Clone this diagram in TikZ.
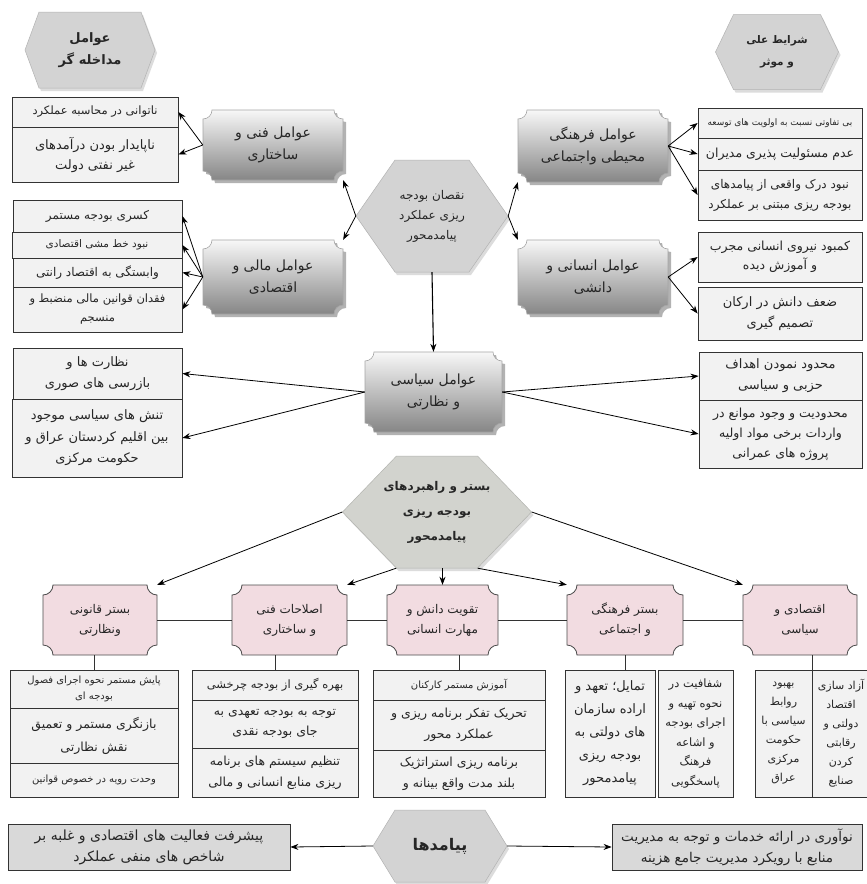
\documentclass[tikz,border=0pt]{standalone}
\usepackage{fontspec}
\setmainfont{DejaVu Sans}
\newfontfamily\arabicfont[Script=Arabic]{DejaVu Sans}
\usetikzlibrary{arrows.meta,calc}
\TeXXeTstate=1
\newcommand\prs[1]{\beginR #1\endR}
\newcommand\fz[2]{\arabicfont\fontsize{#1}{#2}\selectfont}
\definecolor{boxfill}{HTML}{F2F2F2}
\definecolor{pinkfill}{HTML}{F2DCE1}
\definecolor{hexfill}{HTML}{D3D3D3}
\definecolor{hexfillm}{HTML}{D2D3CE}
\definecolor{botfill}{HTML}{D9D9D9}
\newcommand\plqshape[6]{%
 \pgfmathsetmacro\kk{0.552*#6}%
 \path[#1] ({#2+#6},#3) -- ({#4-#6},#3) .. controls ({#4-#6},{#3+\kk}) and ({#4-\kk},{#3+#6}) .. (#4,{#3+#6}) -- (#4,{#5-#6}) .. controls ({#4-\kk},{#5-#6}) and ({#4-#6},{#5-\kk}) .. ({#4-#6},#5) -- ({#2+#6},#5) .. controls ({#2+#6},{#5-\kk}) and ({#2+\kk},{#5-#6}) .. (#2,{#5-#6}) -- (#2,{#3+#6}) .. controls ({#2+\kk},{#3+#6}) and ({#2+#6},{#3+\kk}) .. ({#2+#6},#3) -- cycle;}
\newcommand\hexshape[6]{%
 \path[#1] ({#2-#4/2},#3) -- ({#2-#4/2+#6},{#3-#5/2}) -- ({#2+#4/2-#6},{#3-#5/2}) -- ({#2+#4/2},#3) -- ({#2+#4/2-#6},{#3+#5/2}) -- ({#2-#4/2+#6},{#3+#5/2}) -- cycle;}
\newcommand\hexnode[9]{%
 \hexshape{fill=black!30,opacity=0.45,xshift=2pt,yshift=-3pt}{#2}{#3}{#4}{#5}{#6}%
 \hexshape{fill=#7,draw=#7!85!black,line width=0.5pt}{#2}{#3}{#4}{#5}{#6}%
 \node[hextxt,minimum width=#4pt,minimum height=#5pt,#8] (#1) at (#2,#3) {#9};}
\newcommand\gnode[6]{%
 \plqshape{fill=black,opacity=0.3,xshift=3pt,yshift=-3pt}{#2}{#3}{#4}{#5}{9}%
 \plqshape{top color=gray!6,bottom color=gray!95,draw=gray!70,line width=0.6pt}{#2}{#3}{#4}{#5}{9}%
 \pgfmathsetmacro\bw{#4-#2}\pgfmathsetmacro\bh{#5-#3}%
 \pgfmathsetmacro\bcx{(#2+#4)/2}\pgfmathsetmacro\bcy{(#3+#5)/2}%
 \node[gtxt,minimum width=\bw pt,minimum height=\bh pt] (#1) at (\bcx,\bcy) {#6};}
\newcommand\pnode[6]{%
 \plqshape{fill=pinkfill,draw=black!70,line width=0.8pt}{#2}{#3}{#4}{#5}{10}%
 \pgfmathsetmacro\bw{#4-#2}\pgfmathsetmacro\bh{#5-#3}%
 \pgfmathsetmacro\bcx{(#2+#4)/2}\pgfmathsetmacro\bcy{(#3+#5)/2}%
 \node[ptxt,minimum width=\bw pt,minimum height=\bh pt] (#1) at (\bcx,\bcy) {#6};}
\newcommand\bx[7]{%
 \pgfmathsetmacro\bw{#4-#2}\pgfmathsetmacro\bh{#5-#3}%
 \pgfmathsetmacro\bcx{(#2+#4)/2}\pgfmathsetmacro\bcy{(#3+#5)/2}%
 \node[box,minimum width=\bw pt,minimum height=\bh pt,#6] (#1) at (\bcx,\bcy) {#7};}
\begin{document}
\begin{tikzpicture}[x=1pt,y=-1pt,
 box/.style={draw=black!80,fill=boxfill,line width=0.8pt,inner sep=0pt,align=center,text=black!85,font=\fz{12.5}{20}},
 botbox/.style={fill=botfill,font=\fz{13.5}{21}},
 hextxt/.style={inner sep=0pt,align=center,text=black!85},
 gtxt/.style={inner sep=0pt,align=center,text=black!85,font=\fz{14}{22}},
 ptxt/.style={inner sep=0pt,align=center,text=black!85,font=\fz{12}{20}},
 arr/.style={-{Stealth[length=8pt,width=6pt]},line width=0.8pt,black},
 ln/.style={line width=0.8pt,black!80}]
\useasboundingbox (0,0) rectangle (867,884);
\fill[white] (0,0) rectangle (867,884);

% hexagons
\hexnode{HA}{90}{50}{130}{76}{14}{hexfill}{font=\fz{13}{22}\bfseries}{\prs{عوامل}\\\prs{مداخله گر}}
\hexnode{HB}{777}{52}{123}{75}{18}{hexfill}{font=\fz{10.5}{22}\bfseries}{\prs{شرایط علی}\\\prs{و موثر}}
\hexnode{HC}{432}{216}{152}{112}{39}{hexfill}{font=\fz{12}{20}}{\prs{نقصان بودجه}\\\prs{ریزی عملکرد}\\\prs{پیامدمحور}}
\hexnode{HM}{437}{512}{189}{112}{54}{hexfillm}{font=\fz{12}{25}\bfseries}{\prs{بستر و راهبردهای}\\\prs{بودجه ریزی}\\\prs{پیامدمحور}}
\hexnode{HP}{440}{846}{134}{72}{22}{hexfill}{font=\fz{16}{20}\bfseries}{\prs{پیامدها}}

% gray plaques
\gnode{F1}{203}{110}{343}{180}{\prs{عوامل فنی و}\\\prs{ساختاری}}
\gnode{F2}{203}{240}{343}{314}{\prs{عوامل مالی و}\\\prs{اقتصادی}}
\gnode{F3}{518}{110}{668}{182}{\prs{عوامل فرهنگی}\\\prs{محیطی واجتماعی}}
\gnode{F4}{518}{240}{668}{314}{\prs{عوامل انسانی و}\\\prs{دانشی}}
\gnode{F5}{365}{352}{502}{432}{\prs{عوامل سیاسی}\\\prs{و نظارتی}}

% boxes top left
\bx{L1a}{12}{97}{178}{127}{font=\fz{11.5}{20}}{\prs{ناتوانی در محاسبه عملکرد}}
\bx{L1b}{12}{127}{178}{182}{font=\fz{13}{20}}{\prs{ناپایدار بودن درآمدهای}\\\prs{غیر نفتی دولت}}
\bx{L2a}{13}{200}{182}{232}{font=\fz{12}{18}}{\prs{کسری بودجه مستمر}}
\bx{L2b}{12}{232}{182}{258}{font=\fz{10.5}{18}}{\prs{نبود خط مشی اقتصادی}}
\bx{L2c}{13}{258}{182}{287}{font=\fz{12}{18}}{\prs{وابستگی به اقتصاد رانتی}}
\bx{L2d}{13}{287}{182}{332}{font=\fz{11.5}{19}}{\prs{فقدان قوانین مالی منضبط و}\\\prs{منسجم}}
% boxes top right
\bx{R1a}{698}{108}{862}{138}{font=\fz{9}{14}}{\prs{بی تفاوتی نسبت به اولویت های توسعه}}
\bx{R1b}{698}{138}{862}{170}{font=\fz{12.5}{18}}{\prs{عدم مسئولیت پذیری مدیران}}
\bx{R1c}{698}{170}{862}{220}{font=\fz{12}{20}}{\prs{نبود درک واقعی از پیامدهای}\\\prs{بودجه ریزی مبتنی بر عملکرد}}
\bx{R2a}{698}{232}{862}{282}{font=\fz{12.5}{19}}{\prs{کمبود نیروی انسانی مجرب}\\\prs{و آموزش دیده}}
\bx{R2b}{698}{287}{862}{340}{font=\fz{13}{21}}{\prs{ضعف دانش در ارکان}\\\prs{تصمیم گیری}}
% political
\bx{PLa}{13}{348}{182}{399}{font=\fz{13}{21}}{\prs{نظارت ها و}\\\prs{بازرسی های صوری}}
\bx{PLb}{12}{399}{182}{477}{font=\fz{13}{21.5}}{\prs{تنش های سیاسی موجود}\\\prs{بین اقلیم کردستان عراق و}\\\prs{حکومت مرکزی}}
\bx{PRa}{699}{352}{862}{400}{font=\fz{13}{21}}{\prs{محدود نمودن اهداف}\\\prs{حزبی و سیاسی}}
\bx{PRb}{699}{400}{862}{468}{font=\fz{12.5}{20}}{\prs{محدودیت و وجود موانع در}\\\prs{واردات برخی مواد اولیه}\\\prs{پروژه های عمرانی}}

% pink nodes
\pnode{P1}{43}{585}{157}{655}{\prs{بستر قانونی}\\\prs{ونظارتی}}
\pnode{P2}{232}{585}{347}{655}{\prs{اصلاحات فنی}\\\prs{و ساختاری}}
\pnode{P3}{387}{585}{498}{655}{\prs{تقویت دانش و}\\\prs{مهارت انسانی}}
\pnode{P4}{567}{585}{683}{655}{\prs{بستر فرهنگی}\\\prs{و اجتماعی}}
\pnode{P5}{743}{585}{857}{655}{\prs{اقتصادی و}\\\prs{سیاسی}}

% bottom stacks
\bx{S1a}{10}{670}{178}{708}{font=\fz{10}{16}}{\prs{پایش مستمر نحوه اجرای فصول}\\\prs{بودجه ای}}
\bx{S1b}{10}{708}{178}{763}{font=\fz{12.5}{23}}{\prs{بازنگری مستمر و تعمیق}\\\prs{نقش نظارتی}}
\bx{S1c}{10}{763}{178}{797}{font=\fz{10}{16}}{\prs{وحدت رویه در خصوص قوانین}}
\bx{S2a}{192}{670}{358}{700}{font=\fz{11.5}{18}}{\prs{بهره گیری از بودجه چرخشی}}
\bx{S2b}{192}{700}{358}{748}{font=\fz{12.5}{20}}{\prs{توجه به بودجه تعهدی به}\\\prs{جای بودجه نقدی}}
\bx{S2c}{192}{748}{358}{797}{font=\fz{12.5}{21}}{\prs{تنظیم سیستم های برنامه}\\\prs{ریزی منابع انسانی و مالی}}
\bx{S3a}{373}{670}{545}{700}{font=\fz{10}{16}}{\prs{آموزش مستمر کارکنان}}
\bx{S3b}{373}{700}{545}{750}{font=\fz{12.5}{21}}{\prs{تحریک تفکر برنامه ریزی و}\\\prs{عملکرد محور}}
\bx{S3c}{373}{750}{545}{797}{font=\fz{12.5}{21}}{\prs{برنامه ریزی استراتژیک}\\\prs{بلند مدت واقع بینانه و}}
\bx{S4a}{565}{670}{655}{797}{font=\fz{13}{23}}{\prs{تمایل؛ تعهد و}\\\prs{اراده سازمان}\\\prs{های دولتی به}\\\prs{بودجه ریزی}\\\prs{پیامدمحور}}
\bx{S4b}{658}{670}{733}{797}{font=\fz{11.5}{19.5}}{\prs{شفافیت در}\\\prs{نحوه تهیه و}\\\prs{اجرای بودجه}\\\prs{و اشاعه}\\\prs{فرهنگ}\\\prs{پاسخگویی}}
\bx{S5a}{755}{670}{812}{797}{font=\fz{11}{19}}{\prs{بهبود}\\\prs{روابط}\\\prs{سیاسی با}\\\prs{حکومت}\\\prs{مرکزی}\\\prs{عراق}}
\bx{S5b}{812}{670}{870}{797}{font=\fz{11}{19}}{\prs{آزاد سازی}\\\prs{اقتصاد}\\\prs{دولتی و}\\\prs{رقابتی}\\\prs{کردن}\\\prs{صنایع}}

% bottom outcome boxes
\bx{B1}{8}{824}{290}{870}{botbox,font=\fz{14}{21}}{\prs{پیشرفت فعالیت های اقتصادی و غلبه بر}\\\prs{شاخص های منفی عملکرد}}
\bx{B2}{612}{824}{862}{870}{botbox}{\prs{نوآوری در ارائه خدمات و توجه به مدیریت}\\\prs{منابع با رویکرد مدیریت جامع هزینه}}

% connectors
\draw[arr] (HC.west) -- (F1.south east);
\draw[arr] (HC.west) -- (F2.north east);
\draw[arr] (HC.east) -- (F3.south west);
\draw[arr] (HC.east) -- (F4.north west);
\draw[arr,line width=1.1pt] (HC.south) -- (F5.north);
\foreach \t in {L1a,L1b} \draw[arr] (F1.west) -- (\t.east);
\foreach \t in {L2a,L2b,L2c,L2d} \draw[arr] (F2.west) -- (\t.east);
\foreach \t in {R1a,R1b,R1c} \draw[arr] (F3.east) -- (\t.west);
\foreach \t in {R2a,R2b} \draw[arr] (F4.east) -- (\t.west);
\foreach \t in {PLa,PLb} \draw[arr] (F5.west) -- (\t.east);
\foreach \t in {PRa,PRb} \draw[arr] (F5.east) -- (\t.west);

\coordinate (Mbl) at ($(HM.south west)+(54,0)$);
\coordinate (Mbr) at ($(HM.south east)+(-54,0)$);
\draw[arr] (HM.west) -- (P1.north east);
\draw[arr] (Mbl) -- (P2.north east);
\draw[arr] (HM.south -| P3.north) -- (P3.north);
\draw[arr] (Mbr) -- (P4.north west);
\draw[arr] (HM.east) -- (P5.north west);

\draw[ln] (P1.east) -- (P2.west);
\draw[ln] (P2.east) -- (P3.west);
\draw[ln] (P3.east) -- (P4.west);
\draw[ln] (P4.east) -- (P5.west);
\draw[ln] (P1.south -| S1a.north) -- (S1a.north);
\draw[ln] (P2.south -| S2a.north) -- (S2a.north);
\draw[ln] (P3.south -| S3a.north) -- (S3a.north);
\draw[ln] (P4.south) -- (P4.south |- S4a.north);
\draw[ln] (P5.south -| S5a.north east) -- (S5a.north east);

\draw[arr] (HP.west) -- (B1.east);
\draw[arr] (HP.east) -- (B2.west);
\end{tikzpicture}
\end{document}
